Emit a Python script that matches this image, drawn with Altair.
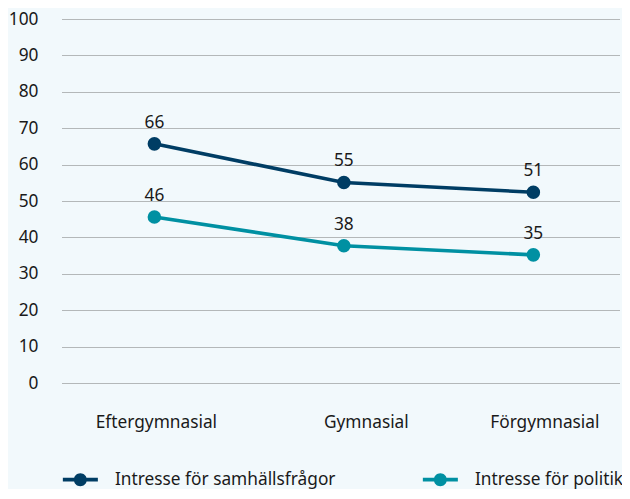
import altair as alt
import pandas as pd

categories = ["Eftergymnasial", "Gymnasial", "Förgymnasial"]
series_names = ["Intresse för samhällsfrågor", "Intresse för politik"]
samhalle_values = [65.7, 55.1, 52.4]
samhalle_labels = ["66", "55", "51"]
politik_values = [45.6, 37.7, 35.2]
politik_labels = ["46", "38", "35"]
y_ticks = [0, 10, 20, 30, 40, 50, 60, 70, 80, 90, 100]
colors = ["#003d64", "#0090a2"]

rows = []
for c, v, l in zip(categories, samhalle_values, samhalle_labels):
    rows.append({"kat": c, "serie": series_names[0], "varde": v, "etikett": l})
for c, v, l in zip(categories, politik_values, politik_labels):
    rows.append({"kat": c, "serie": series_names[1], "varde": v, "etikett": l})
df = pd.DataFrame(rows)

FS = 17.3
TXT = "#1a1a1a"

x_enc = alt.X(
    "kat:N",
    sort=categories,
    title=None,
    scale=alt.Scale(type="point", padding=0.4725, align=0.516),
    axis=alt.Axis(
        domain=False,
        ticks=False,
        grid=False,
        labelAngle=0,
        labelPadding=30,
        labelFontSize=FS,
        labelColor=TXT,
        labelOffset={
            "condition": [
                {"test": "datum.value === 'Gymnasial'", "value": 22},
                {"test": "datum.value === 'Förgymnasial'", "value": 11},
            ],
            "value": 1.5,
        },
    ),
)
y_enc = alt.Y(
    "varde:Q",
    title=None,
    scale=alt.Scale(domain=[0, 100], nice=False, zero=True),
    axis=alt.Axis(
        values=y_ticks,
        domain=False,
        ticks=False,
        grid=True,
        gridColor="#777777",
        gridDash=[1, 1],
        gridWidth=1,
        labelPadding=24,
        labelFontSize=FS,
        labelColor=TXT,
    ),
)
color_scale = alt.Scale(domain=series_names, range=colors)

# legend glyph: a short line with a dot, drawn wider than its layout box
symbol_path = (
    "M-2.06,-0.22 L2.06,-0.22 L2.06,0.22 L-2.06,0.22 Z "
    "M0.765,0 A0.765,0.765 0 1 1 -0.765,0 A0.765,0.765 0 1 1 0.765,0 Z"
)

legend = alt.Legend(
    orient="none",
    legendX=9.7,
    legendY=452,
    direction="horizontal",
    columns=2,
    columnPadding=87,
    padding=0,
    symbolType=symbol_path,
    symbolSize=289,
    symbolStrokeWidth=0,
    symbolOpacity=1,
    labelOffset=26,
    labelFontSize=FS,
    labelColor=TXT,
    labelLimit=400,
)
color_enc = alt.Color("serie:N", scale=color_scale, sort=series_names, title=None, legend=legend)

base = alt.Chart(df)

lines = base.mark_line(strokeWidth=3.6).encode(
    x=x_enc,
    y=y_enc,
    color=color_enc,
)

points = base.mark_point(filled=True, size=185, opacity=1).encode(
    x=x_enc,
    y=y_enc,
    color=color_enc,
)

labels = base.mark_text(
    dy=-16, baseline="alphabetic", align="center", fontSize=FS, color=TXT
).encode(x=x_enc, y=y_enc, text="etikett:N")

chart = (
    alt.layer(lines, points, labels)
    .properties(
        width=558,
        height=364,
        background="#f2f9fc",
        autosize=alt.AutoSizeParams(type="none"),
        padding={"left": 54, "top": 11, "right": 2, "bottom": 106},
    )
    .configure(font="Noto Sans")
    .configure_view(stroke=None)
)

chart.save("out.html", embed_options={"renderer": "svg", "actions": False})
